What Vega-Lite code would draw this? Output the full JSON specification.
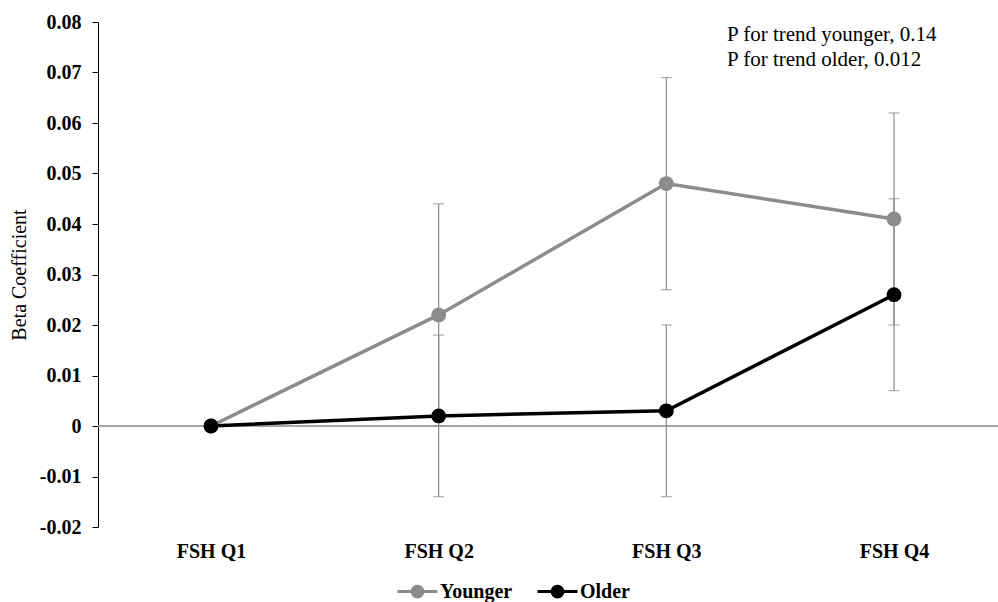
{
  "$schema": "https://vega.github.io/schema/vega-lite/v6.json",
  "autosize": {"type": "none"},
  "padding": {"left": 98, "top": 22, "right": 0, "bottom": 75},
  "width": 900,
  "height": 505,
  "background": "white",
  "config": {"view": {"stroke": null}, "font": "Liberation Serif"},
  "data": {
    "values": [
      {"group": "Younger", "q": "FSH Q1", "beta": 0.0, "lo": null, "hi": null},
      {"group": "Younger", "q": "FSH Q2", "beta": 0.022, "lo": 0.0, "hi": 0.044},
      {"group": "Younger", "q": "FSH Q3", "beta": 0.048, "lo": 0.027, "hi": 0.069},
      {"group": "Younger", "q": "FSH Q4", "beta": 0.041, "lo": 0.020, "hi": 0.062},
      {"group": "Older", "q": "FSH Q1", "beta": 0.0, "lo": null, "hi": null},
      {"group": "Older", "q": "FSH Q2", "beta": 0.002, "lo": -0.014, "hi": 0.018},
      {"group": "Older", "q": "FSH Q3", "beta": 0.003, "lo": -0.014, "hi": 0.020},
      {"group": "Older", "q": "FSH Q4", "beta": 0.026, "lo": 0.007, "hi": 0.045}
    ]
  },
  "encoding": {
    "x": {
      "field": "q", "type": "ordinal",
      "scale": {"type": "point", "range": [113, 796], "padding": 0},
      "axis": {"title": null, "domain": false, "ticks": false, "labelAngle": 0, "labelPadding": 14, "labelFont": "Liberation Serif", "labelFontSize": 20, "labelFontWeight": "bold", "labelColor": "#000"}
    }
  },
  "layer": [
    {
      "mark": {"type": "rule", "color": "#a6a6a6", "strokeWidth": 2},
      "encoding": {"x": null, "y": {"datum": 0, "type": "quantitative"}}
    },
    {
      "transform": [{"filter": "datum.lo != null"}],
      "mark": {"type": "rule", "color": "#8c8c8c", "strokeWidth": 1.2},
      "encoding": {
        "y": {"field": "lo", "type": "quantitative"},
        "y2": {"field": "hi"}
      }
    },
    {
      "transform": [{"filter": "datum.lo != null"}, {"fold": ["lo", "hi"], "as": ["end", "v"]}],
      "mark": {"type": "tick", "color": "#8c8c8c", "size": 11, "thickness": 1.2, "orient": "horizontal"},
      "encoding": {
        "y": {"field": "v", "type": "quantitative"}
      }
    },
    {
      "mark": {"type": "line", "strokeWidth": 3.5},
      "encoding": {
        "y": {
          "field": "beta", "type": "quantitative",
          "scale": {"domain": [-0.02, 0.08], "nice": false, "zero": false},
          "axis": {
            "title": "Beta Coefficient", "titleFont": "Liberation Serif", "titleFontSize": 20, "titleFontWeight": "normal", "titleColor": "#000", "titlePadding": 10,
            "values": [-0.02, -0.01, 0, 0.01, 0.02, 0.03, 0.04, 0.05, 0.06, 0.07, 0.08],
            "labelExpr": "replace(format(datum.value, '.2~f'), '\u2212', '-')",
            "labelFont": "Liberation Serif", "labelFontSize": 20, "labelFontWeight": "bold", "labelColor": "#000", "labelPadding": 11,
            "grid": false, "domainColor": "#000", "tickColor": "#000", "tickSize": 6, "domainWidth": 1, "tickWidth": 1
          }
        },
        "color": {
          "field": "group", "type": "nominal",
          "scale": {"domain": ["Younger", "Older"], "range": ["#8c8c8c", "#000000"]},
          "legend": {
            "title": null, "orient": "none", "direction": "horizontal", "legendX": 298, "legendY": 548,
            "symbolType": "M-1,0L1,0M0.27,0A0.27,0.27,0,1,1,-0.27,0A0.27,0.27,0,1,1,0.27,0Z",
            "symbolSize": 1600, "symbolStrokeWidth": 3,
            "labelFont": "Liberation Serif", "labelFontSize": 20, "labelFontWeight": "bold", "labelColor": "#000", "labelOffset": 1, "columnPadding": 18,
            "encode": {"symbols": {"update": {
              "shape": {"value": "M-1,0L1,0M0.27,0A0.27,0.27,0,1,1,-0.27,0A0.27,0.27,0,1,1,0.27,0Z"},
              "size": {"value": 1600},
              "strokeWidth": {"value": 3},
              "opacity": {"value": 1},
              "fill": {"scale": "color", "field": "value"},
              "stroke": {"scale": "color", "field": "value"}}}}
          }
        }
      }
    },
    {
      "mark": {"type": "circle", "size": 220, "opacity": 1},
      "encoding": {
        "y": {"field": "beta", "type": "quantitative"},
        "color": {"field": "group", "type": "nominal", "legend": null}
      }
    },
    {
      "data": {"values": [{"t": ["P for trend younger, 0.14", "P for trend older, 0.012"]}]},
      "mark": {"type": "text", "align": "left", "baseline": "middle", "font": "Liberation Serif", "fontSize": 21, "lineHeight": 25, "dx": -167, "color": "#000"},
      "encoding": {
        "x": {"datum": "FSH Q4"},
        "y": {"datum": 0.0774, "type": "quantitative"},
        "text": {"field": "t"}
      }
    }
  ]
}
